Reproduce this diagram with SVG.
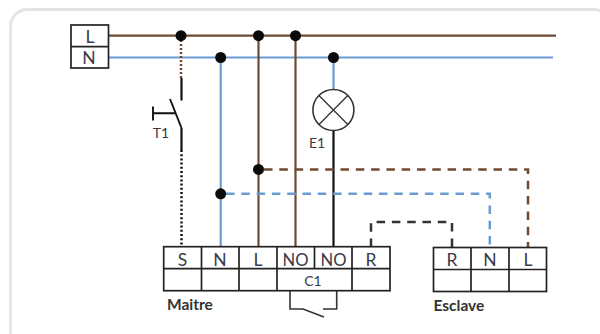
<svg xmlns="http://www.w3.org/2000/svg" width="600" height="334" viewBox="0 0 600 334">
<style>
.t{font-family:"Lato","Liberation Sans",sans-serif;fill:#3a3a48;text-anchor:middle}
.lg{font-size:17.5px}
.sm{font-size:14px}
.b{font-size:15.5px;font-weight:700;text-anchor:start;fill:#333}
.w{fill:none;stroke-width:2.2}
.br{stroke:#6f4a33}
.bl{stroke:#6a9bd3}
.k{stroke:#111}
.d{stroke-dasharray:8.500 6.800;stroke-width:2.500}
.g{fill:none;stroke:#222;stroke-width:1.700}
.dot{fill:#0a0a0a}
</style>
<rect x="10.500" y="9.500" width="600" height="345" rx="17" fill="#fff" stroke="#e4e4e4" stroke-width="2.800"/>
<g id="connectors">
<path class="w br" d="M108 35.700H556"/>
<path class="w bl" d="M108 57.500H553"/>
<path class="w bl" d="M220.700 57.500V247"/>
<path class="w br" d="M258.500 35.700V247"/>
<path class="w br" d="M295.500 35.700V247"/>
<path class="w bl" d="M333.500 57.500V90"/>
<path class="w k" d="M333.500 130V247"/>
<path class="w br" stroke-dasharray="2 2" style="stroke-width:2.500" d="M181 36V78"/>
<path class="w k" d="M181.500 78V100.500"/>
<path class="w k" d="M181.500 128V150"/>
<path class="w k" stroke-dasharray="2 2.200" style="stroke-width:2.500" d="M181.500 150V247"/>
<path class="w k" style="stroke-width:1.900" d="M170 99L181.500 128"/>
<path class="w k" style="stroke-width:1.900" d="M153 113.300H175M153 106.500V120.500"/>
<path class="w br d" d="M264 169.400H528V247"/>
<path class="w bl d" d="M226 193.800H489.800V247"/>
<path class="w d" style="stroke:#333" d="M371 247V222H452V247"/>
<path fill="none" stroke="#333" stroke-width="1.600" d="M290 291V309H303L324 317M323 309H336.700V291"/>
</g>
<g id="L-N">
<rect class="g" x="71" y="25" width="37.500" height="43"/><path class="g" d="M71 46.700H108.500"/>
<text class="t" style="font-size:17.500px" x="90" y="43">L</text>
<text class="t" style="font-size:17.500px" x="89" y="64">N</text>
</g>
<g id="lamp-E1">
<circle cx="333.400" cy="110" r="20.500" fill="#fff" stroke="#333" stroke-width="1.600"/>
<path stroke="#333" stroke-width="1.300" d="M319 95.500L347.800 124.500M347.800 95.500L319 124.500"/>
<text class="t sm" x="317" y="147.500">E1</text>
</g>
<g id="T1"><text class="t sm" x="161" y="138">T1</text></g>
<g id="dots">
<circle class="dot" cx="181" cy="35.700" r="5.500"/>
<circle class="dot" cx="220.700" cy="57.500" r="5.500"/>
<circle class="dot" cx="258.500" cy="35.700" r="5.500"/>
<circle class="dot" cx="295.500" cy="35.700" r="5.500"/>
<circle class="dot" cx="333.500" cy="57.500" r="5.500"/>
<circle class="dot" cx="258.500" cy="169.400" r="5.500"/>
<circle class="dot" cx="220.700" cy="193.800" r="5.500"/>
</g>
<g id="maitre">
<rect class="g" x="163.700" y="246.700" width="226.300" height="44"/>
<path class="g" d="M163.700 268.700H390M201.500 246.700V290.700M239 246.700V290.700M277 246.700V290.700M352 246.700V290.700M314.500 246.700V268.700"/>
<text class="t lg" x="182.500" y="265.500">S</text>
<text class="t lg" x="220" y="265.500">N</text>
<text class="t lg" x="258" y="265.500">L</text>
<text class="t lg" x="295.500" y="265.500" textLength="26" lengthAdjust="spacingAndGlyphs">NO</text>
<text class="t lg" x="333.500" y="265.500" textLength="26" lengthAdjust="spacingAndGlyphs">NO</text>
<text class="t lg" x="371" y="265.500">R</text>
<text class="t" style="font-size:14px" x="313" y="285.500">C1</text>
<text class="t b" x="167" y="310">Maitre</text>
</g>
<g id="esclave">
<rect class="g" x="433.500" y="247.500" width="113" height="44"/>
<path class="g" d="M433.500 269.500H546.500M471 247.500V291.500M509 247.500V291.500"/>
<text class="t lg" x="452" y="266">R</text>
<text class="t lg" x="490" y="266">N</text>
<text class="t lg" x="528" y="266">L</text>
<text class="t b" x="433.500" y="310.500">Esclave</text>
</g>
</svg>
